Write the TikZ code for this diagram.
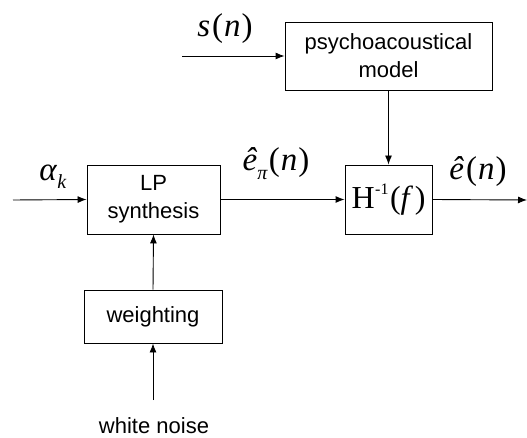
\documentclass[tikz,border=0pt]{standalone}
\usepackage{fontspec}
\setmainfont{Liberation Sans}
\newfontfamily\tms{Liberation Serif}
\usetikzlibrary{arrows.meta}
\begin{document}
\begin{tikzpicture}[x=1pt,y=-1pt,
  blk/.style={draw,line width=0.9pt,align=center,inner sep=0pt,font=\fontsize{22}{28}\selectfont},
  conn/.style={line width=0.9pt,-{Latex[length=9pt,width=7pt]}},
  lbl/.style={inner sep=0pt,font=\tms\fontsize{33}{36}\selectfont}]
\useasboundingbox (0,0) rectangle (527,438);
\node[blk,minimum width=207pt,minimum height=68pt] (psy) at (388.5,56) {psychoacoustical\\model};
\node[blk,minimum width=87pt,minimum height=69pt] (H) at (388.5,199.5) {\tms\fontsize{32}{34}\selectfont H\kern0.5pt\raisebox{0.42em}{\fontsize{16}{18}\selectfont -1}\kern1.5pt(\textit{f}\kern1.5pt)};
\node[blk,minimum width=133pt,minimum height=69pt] (lp) at (153.5,199.5) {LP\\synthesis};
\node[blk,minimum width=138pt,minimum height=53pt] (w) at (153,316.5) {weighting};
\coordinate (sin) at (182,56);
\coordinate (ain) at (13,200);
\coordinate (out) at (527,200);
\coordinate (wn) at (153,400);
\node[inner sep=0pt,anchor=base,font=\fontsize{22}{25}\selectfont] (wnt) at (154,433) {white noise};
\draw[conn] (sin) -- (psy.west);
\draw[conn] (psy.south) -- (H.north);
\draw[conn] (ain) -- (lp.west);
\draw[conn] (lp.east) -- (H.west);
\draw[conn] (H.east) -- (out);
\draw[conn] (w.north) -- (lp.south);
\draw[conn] (wn) -- (w.south);
\node[lbl] (ls) at (225,29) {\textit{s}\kern2pt(\kern1pt\textit{n}\kern1pt)};
\node[lbl] (la) at (53,177) {\textit{α}\raisebox{-0.25em}{\fontsize{20}{21}\selectfont\textit{k}}};
\node[lbl] (le) at (276,164) {\textit{ê}\raisebox{-0.28em}{\fontsize{20}{21}\selectfont\textit{π}}\kern1pt(\kern1pt\textit{n}\kern1pt)};
\node[lbl] (lo) at (478,172) {\textit{ê}\kern2pt(\kern1pt\textit{n}\kern1pt)};
\end{tikzpicture}
\end{document}
